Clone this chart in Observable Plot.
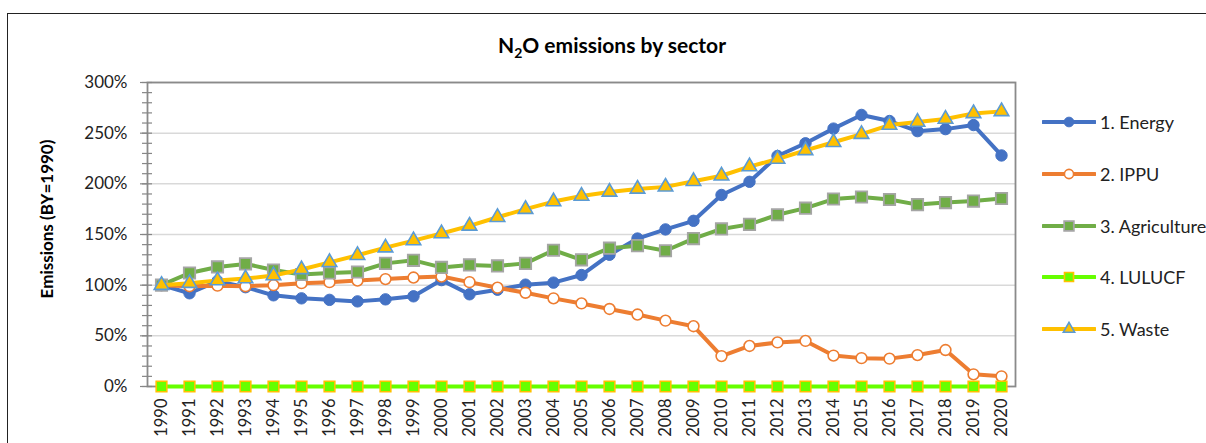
<!DOCTYPE html>
<html><head><meta charset="utf-8">
<script src="https://cdn.jsdelivr.net/npm/d3@7"></script>
<script src="https://cdn.jsdelivr.net/npm/@observablehq/plot@0.6"></script>
<style>
body{margin:0;width:1206px;height:443px;overflow:hidden;position:relative;background:#fff;font-family:Lato,sans-serif}
#frame{position:absolute;left:7px;top:13px;width:1240px;height:470px;border:1.6px solid #222;box-sizing:border-box}
#title{position:absolute;left:0;width:1224px;top:32px;text-align:center;font-weight:bold;font-size:21px;color:#000}
#ylab{position:absolute;left:46px;top:219px;transform:translate(-50%,-50%) rotate(-90deg);white-space:nowrap;font-weight:bold;font-size:17px;color:#000}
#chart{position:absolute;left:0;top:0}
.lg{position:absolute;left:1042px;height:20px;display:flex;align-items:center;font-size:18px;color:#222;white-space:nowrap}
.lg svg{margin-right:4px}
</style></head>
<body>
<div id="frame"></div>
<div id="chart"></div>
<div id="title">N<sub style="font-size:14px">2</sub>O emissions by sector</div>
<div id="ylab">Emissions (BY=1990)</div>
<div id="legend"></div>
<script>
const years = ["1990","1991","1992","1993","1994","1995","1996","1997","1998","1999","2000","2001","2002","2003","2004","2005","2006","2007","2008","2009","2010","2011","2012","2013","2014","2015","2016","2017","2018","2019","2020"];
const seriesNames = ["1. Energy","2. IPPU","3. Agriculture","4. LULUCF","5. Waste"];
const energy = [100,92,104,98,90,87,85.5,84,86,89,105,91,95.5,100.5,102.5,110,130,146,155,163.5,189,202,227.5,240,254.5,268,262,252,254,258,228];
const ippu = [100,99,99.5,99,100,102,103,104.5,106,107.5,108.5,103,97.5,92.5,87,82,76.5,71,65,59.5,30,40,43.5,45,30.5,28,27.5,31,36,12,10];
const agriculture = [100,112,118,121,115,110.5,112,113,121.5,124.5,117.5,120,119,121.5,134.5,125,136.5,139,134,146,155.5,160,169.5,176,185,187,184.5,179.5,181.5,183,185.5];
const lulucf = [0,0,0,0,0,0,0,0,0,0,0,0,0,0,0,0,0,0,0,0,0,0,0,0,0,0,0,0,0,0,0];
const waste = [100,102,104.5,106.5,109.5,115.5,122.5,129.5,137,144,151,158.5,167,175,182.5,188,192,195,197,202.5,208,217,224.5,233,241,249,258,261,264,269.5,271.5];
const majorTicks = [0,50,100,150,200,250,300];

const valuesBySeries = [energy, ippu, agriculture, lulucf, waste];
const styles = {
  "1. Energy":      {line:"#4472C4", symbol:"circle", r:5.7, fill:"#4472C4", mstroke:"#4472C4", sw:1},
  "2. IPPU":        {line:"#ED7D31", symbol:"circle", r:5.4, fill:"#FFFFFF", mstroke:"#ED7D31", sw:1.6},
  "3. Agriculture": {line:"#70AD47", symbol:"square", r:6.4, fill:"#70AD47", mstroke:"#A5A5A5", sw:1.8},
  "4. LULUCF":      {line:"#66FF00", symbol:"square", r:6.0, fill:"#66FF00", mstroke:"#FFC000", sw:1.6},
  "5. Waste":       {line:"#FFC000", symbol:"triangle", r:5.4, fill:"#FFC000", mstroke:"#5B9BD5", sw:1.6}
};
const table = seriesNames.flatMap((s, i) => years.map((y, j) => ({series: s, year: y, value: valuesBySeries[i][j]})));

const W = 1206, H = 443, mL = 147, mR = 191, mT = 82, mB = 57;
const innerW = W - mL - mR;
const minorTicks = d3.range(0, 301, 10);

const marks = [
  Plot.gridY(majorTicks.filter(d => d > 0), {stroke: "#d9d9d9", strokeWidth: 1.5, strokeOpacity: 1}),
  Plot.frame({stroke: "#8a8a8a", strokeWidth: 1.8}),
  Plot.tickY(minorTicks, {y: d => d, stroke: "#868686", strokeWidth: 1.2, insetRight: innerW - 5}),
  Plot.axisY({ticks: minorTicks, tickSize: 5, tickFormat: () => "", stroke: "#868686", strokeWidth: 1.2, label: null}),
  Plot.axisY({ticks: majorTicks, tickSize: 7, tickPadding: 13, tickFormat: d => d + "%", stroke: "#868686", strokeWidth: 1.2, fontSize: 17, fill: "#222", label: null}),
  Plot.axisX({tickSize: 0, tickPadding: 12, tickRotate: -90, fontSize: 16.5, fill: "#222", label: null})
];
for (const s of seriesNames) {
  const st = styles[s];
  const d = table.filter(r => r.series === s);
  marks.push(Plot.line(d, {x: "year", y: "value", stroke: st.line, strokeWidth: 4, strokeLinejoin: "round", strokeLinecap: "round"}));
  marks.push(Plot.dot(d, {x: "year", y: "value", symbol: st.symbol, r: st.r, fill: st.fill, stroke: st.mstroke, strokeWidth: st.sw}));
}

const chart = Plot.plot({
  width: W, height: H,
  marginLeft: mL, marginRight: mR, marginTop: mT, marginBottom: mB,
  style: {fontFamily: "Lato, sans-serif", background: "transparent", overflow: "visible"},
  x: {type: "point", domain: years, padding: 0.5},
  y: {domain: [0, 300]},
  marks
});
document.getElementById("chart").appendChild(chart);

// legend
const legend = d3.select("#legend");
const rowCenters = [122, 174, 226, 277, 329];
seriesNames.forEach((s, i) => {
  const st = styles[s];
  const row = legend.append("div").attr("class", "lg").style("top", (rowCenters[i] - 10) + "px");
  const svg = row.append("svg").attr("width", 54).attr("height", 20);
  svg.append("line").attr("x1", 1).attr("x2", 53).attr("y1", 10).attr("y2", 10)
    .attr("stroke", st.line).attr("stroke-width", 4).attr("stroke-linecap", "round");
  const symType = st.symbol === "circle" ? d3.symbolCircle : st.symbol === "square" ? d3.symbolSquare : d3.symbolTriangle;
  const size = st.symbol === "triangle" ? Math.PI * 4.2 * 4.2 : Math.PI * (st.r * 0.85) * (st.r * 0.85);
  svg.append("path").attr("d", d3.symbol(symType, size)()).attr("transform", "translate(27,10)")
    .attr("fill", st.fill).attr("stroke", st.mstroke).attr("stroke-width", st.sw);
  row.append("span").text(s);
});
</script>
</body></html>
